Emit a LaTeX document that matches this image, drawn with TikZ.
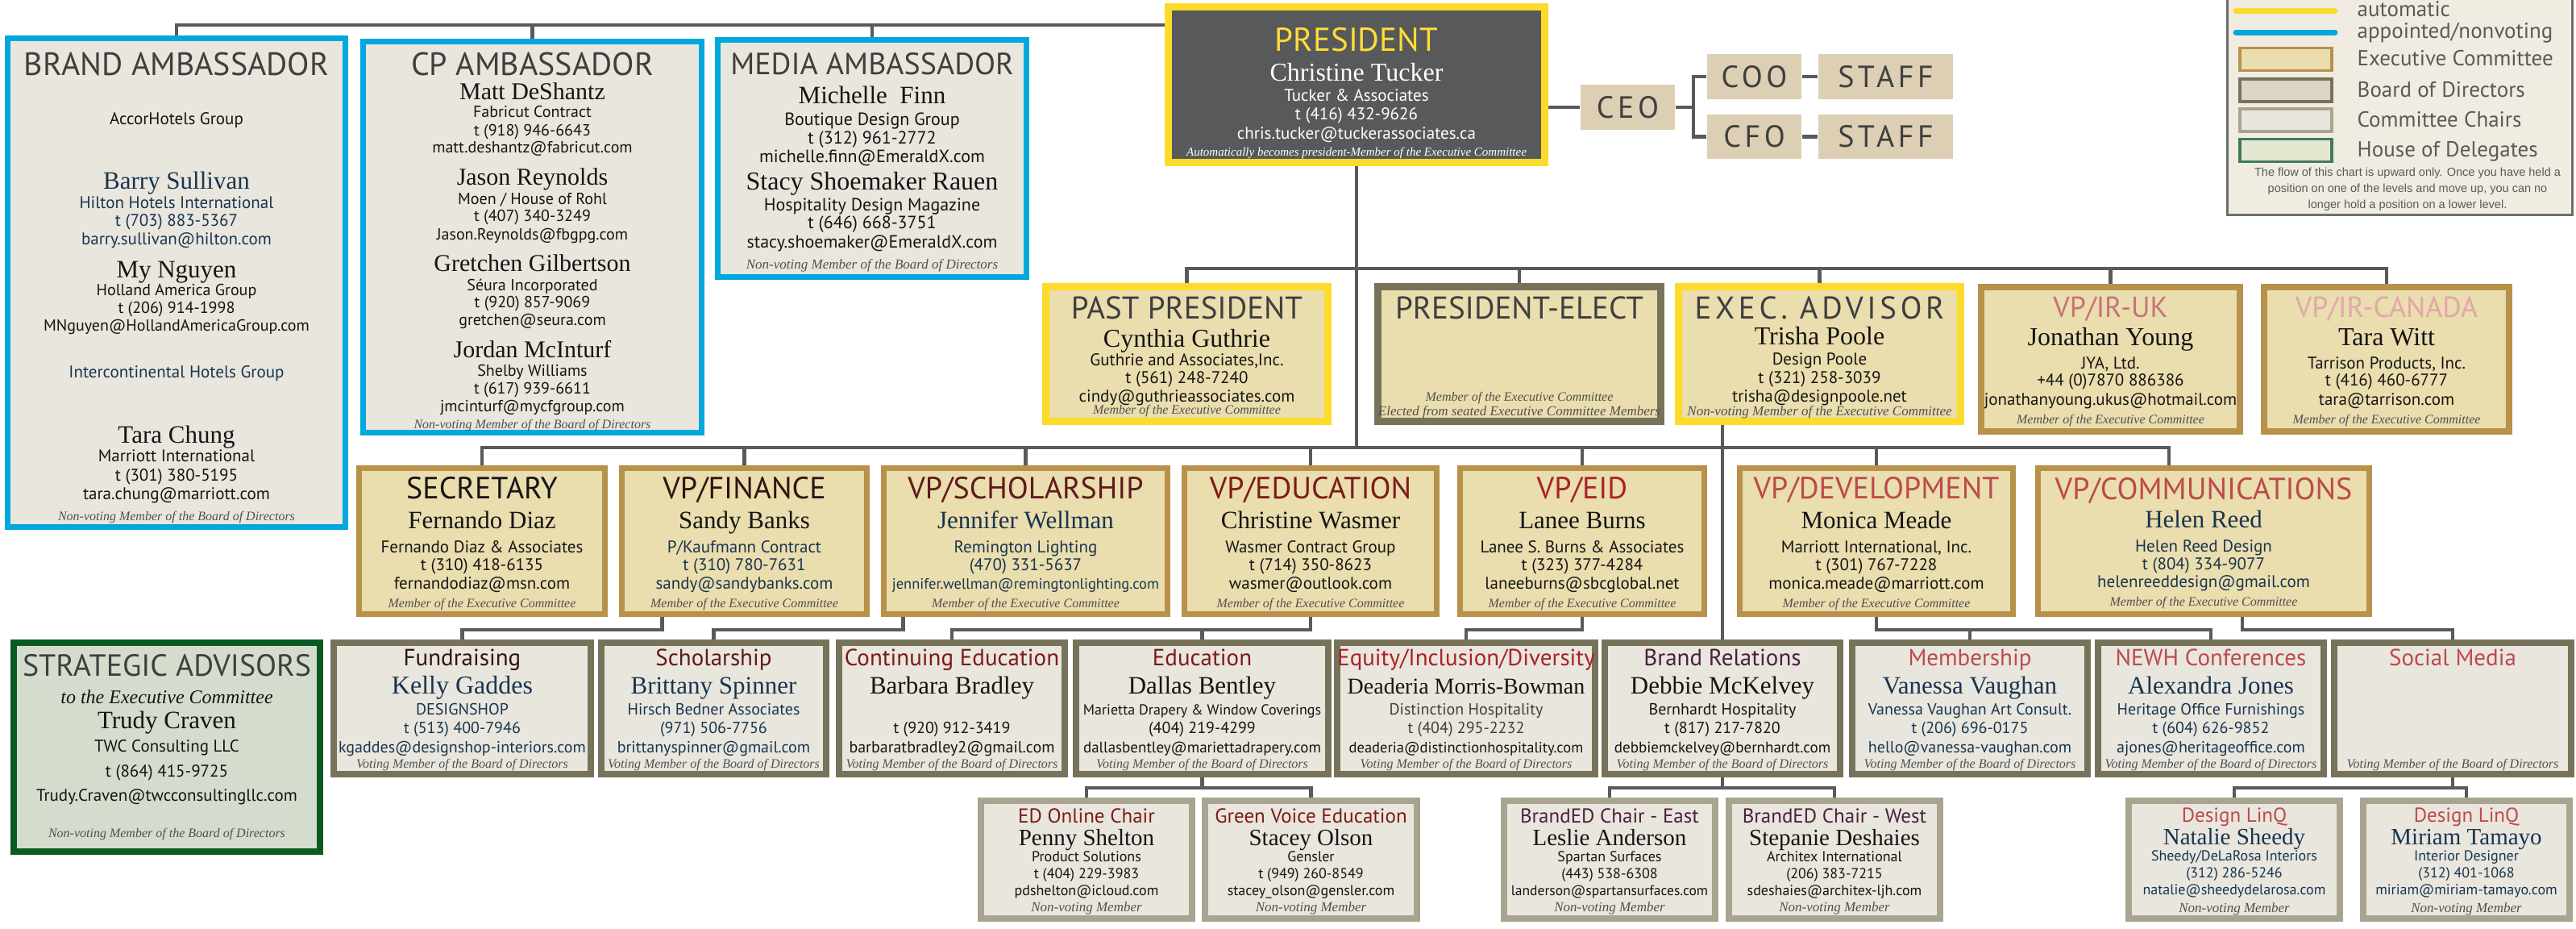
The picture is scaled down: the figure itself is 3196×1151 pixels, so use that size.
\documentclass[tikz,border=0pt]{standalone}
\usepackage{fontspec}
\setmainfont{Liberation Serif}
\newfontfamily\hd{PT Sans}
\newfontfamily\ls{PT Sans}[LetterSpace=12]
\newfontfamily\lgf{Liberation Sans}
\usetikzlibrary{backgrounds}

\definecolor{execfill}{HTML}{EADDAE}
\definecolor{execline}{HTML}{B8914A}
\definecolor{yellowline}{HTML}{FDDB2A}
\definecolor{blueline}{HTML}{00A8DE}
\definecolor{boardline}{HTML}{77735A}
\definecolor{boardfill}{HTML}{DDD5C3}
\definecolor{chairline}{HTML}{A9A48F}
\definecolor{chairfill}{HTML}{E9E6DE}
\definecolor{greenline}{HTML}{0B5A22}
\definecolor{stratfill}{HTML}{D5DCCD}
\definecolor{hodfill}{HTML}{E2E8CF}
\definecolor{hodline}{HTML}{3E7B5B}
\definecolor{tanfill}{HTML}{DDCFB4}
\definecolor{presfill}{HTML}{58595B}
\definecolor{presyellow}{HTML}{FFDD33}
\definecolor{connline}{HTML}{5A5A5A}
\definecolor{legfill}{HTML}{F1ECE2}
\definecolor{legline}{HTML}{6E6E6E}
\definecolor{leggrey}{HTML}{5A5A5A}
\definecolor{hdgrey}{HTML}{3F3F3F}
\definecolor{ink}{HTML}{151515}
\definecolor{navy}{HTML}{17354F}
\definecolor{notegrey}{HTML}{505050}
\definecolor{brownhd}{HTML}{2E1512}
\definecolor{maroonhd}{HTML}{5E1A1C}
\definecolor{darkred}{HTML}{7D1A1A}
\definecolor{redhd}{HTML}{A82227}
\definecolor{rosehd}{HTML}{BC4A4D}
\definecolor{pinkhd}{HTML}{C8727A}
\definecolor{palehd}{HTML}{E2A7AA}
\definecolor{plumhd}{HTML}{4B1F3F}

% one px of the reference = 0.01cm
\newdimen\pxl \pxl=0.01cm
\newcommand\fz[1]{\fontsize{\dimexpr#1\pxl\relax}{0pt}\selectfont}
% a line: distance from the line above, then its text
\newcommand\Ln[2]{\rule{0pt}{\dimexpr#1\pxl\relax}\smash{#2}}
\newcommand\ttl[4]{\Ln{#1}{\hd\fz{#2}\color{#3}#4}}
\newcommand\nme[4]{\Ln{#1}{\rmfamily\fz{#2}\color{#3}#4}}
\newcommand\cnt[4]{\Ln{#1}{\hd\fz{#2}\color{#3}#4}}
\newcommand\nte[3]{\Ln{#1}{\rmfamily\itshape\fz{#2}\color{notegrey}#3}}

\begin{document}
\begin{tikzpicture}[x=0.01cm,y=-0.01cm,
  conn/.style={draw=connline,line width=0.045cm},
  card/.style={inner sep=0pt,align=center,font={\fontsize{1pt}{0pt}\selectfont\lineskip=0pt\lineskiplimit=0pt}},
  execcard/.style={card,draw=execline,fill=execfill,line width=0.07cm},
  topcard/.style={card,draw=yellowline,fill=execfill,line width=0.09cm},
  boardcard/.style={card,draw=boardline,fill=chairfill,line width=0.08cm},
  chaircard/.style={card,draw=chairline,fill=chairfill,line width=0.08cm},
  ambcard/.style={card,draw=blueline,fill=chairfill,line width=0.07cm},
  tanbox/.style={fill=tanfill,inner sep=0pt,font={\ls\fz{38}},text=hdgrey},
  swatch/.style={minimum width=1.14cm,minimum height=0.28cm,line width=0.035cm,inner sep=0pt},
  legtext/.style={anchor=base west,inner sep=0pt,font={\hd\fz{27}},text=leggrey}]
\useasboundingbox (0,0) rectangle (3196,1151);

% ambassadors
\node[ambcard,minimum width=4.19cm,minimum height=6.06cm] (brand) at (219,350.5) {%
\ttl{37}{40}{hdgrey}{BRAND AMBASSADOR}\\
\cnt{61}{21}{ink}{AccorHotels Group}\\
\nme{80}{31}{navy}{Barry Sullivan}\\
\cnt{24}{21}{navy}{Hilton Hotels International}\\
\cnt{22}{21}{navy}{t (703) 883-5367}\\
\cnt{23}{21}{navy}{barry.sullivan@hilton.com}\\
\nme{41}{31}{ink}{My Nguyen}\\
\cnt{22}{20}{ink}{Holland America Group}\\
\cnt{22}{20}{ink}{t (206) 914-1998}\\
\cnt{22}{20}{ink}{MNguyen@HollandAmericaGroup.com}\\
\cnt{58}{21}{navy}{Intercontinental Hotels Group}\\
\nme{81}{31}{ink}{Tara Chung}\\
\cnt{23}{21}{ink}{Marriott International}\\
\cnt{24}{21}{ink}{t (301) 380-5195}\\
\cnt{23}{21}{ink}{tara.chung@marriott.com}\\
\nte{26}{16}{Non-voting Member of the Board of Directors}};
\node[ambcard,minimum width=4.20cm,minimum height=4.85cm] (cp) at (660.5,294) {%
\ttl{36}{40}{hdgrey}{CP AMBASSADOR}\\
\nme{30}{30}{ink}{Matt DeShantz}\\
\cnt{22}{20}{ink}{Fabricut Contract}\\
\cnt{23}{20}{ink}{t (918) 946-6643}\\
\cnt{21}{20}{ink}{matt.deshantz@fabricut.com}\\
\nme{40}{30}{ink}{Jason Reynolds}\\
\cnt{24}{20}{ink}{Moen / House of Rohl}\\
\cnt{21}{20}{ink}{t (407) 340-3249}\\
\cnt{23}{20}{ink}{Jason.Reynolds@fbgpg.com}\\
\nme{39}{30}{ink}{Gretchen Gilbertson}\\
\cnt{24}{20}{ink}{Séura Incorporated}\\
\cnt{21}{20}{ink}{t (920) 857-9069}\\
\cnt{22}{20}{ink}{gretchen@seura.com}\\
\nme{40}{30}{ink}{Jordan McInturf}\\
\cnt{23}{20}{ink}{Shelby Williams}\\
\cnt{22}{20}{ink}{t (617) 939-6611}\\
\cnt{22}{20}{ink}{jmcinturf@mycfgroup.com}\\
\nte{21}{16}{Non-voting Member of the Board of Directors}};
\node[ambcard,minimum width=3.83cm,minimum height=2.94cm] (media) at (1082,196.5) {%
\ttl{32}{38}{hdgrey}{MEDIA AMBASSADOR}\\
\nme{36}{31}{ink}{Michelle\ \ Finn}\\
\cnt{27}{22}{ink}{Boutique Design Group}\\
\cnt{23}{22}{ink}{t (312) 961-2772}\\
\cnt{23}{22}{ink}{michelle.finn@EmeraldX.com}\\
\nme{34}{32}{ink}{Stacy Shoemaker Rauen}\\
\cnt{26}{22}{ink}{Hospitality Design Magazine}\\
\cnt{22}{22}{ink}{t (646) 668-3751}\\
\cnt{24}{22}{ink}{stacy.shoemaker@EmeraldX.com}\\
\nte{26}{17}{Non-voting Member of the Board of Directors}};

% president and staff
\node[card,draw=yellowline,fill=presfill,line width=0.09cm,minimum width=4.67cm,minimum height=1.93cm] (president) at (1683,105) {%
\ttl{46}{41}{presyellow}{PRESIDENT}\\
\nme{37}{32}{white}{Christine Tucker}\\
\cnt{25}{21}{white}{Tucker \& Associates}\\
\cnt{23}{21}{white}{t (416) 432-9626}\\
\cnt{24}{21}{white}{chris.tucker@tuckerassociates.ca}\\
\Ln{21}{\rmfamily\itshape\fz{15}\color{white}Automatically becomes president-Member of the Executive Committee}};
\node[tanbox,minimum width=1.17cm,minimum height=0.56cm] (ceo) at (2019.5,133) {CEO};
\node[tanbox,minimum width=1.17cm,minimum height=0.56cm] (coo) at (2176.5,95) {COO};
\node[tanbox,minimum width=1.17cm,minimum height=0.55cm] (cfo) at (2176.5,169.5) {CFO};
\node[tanbox,minimum width=1.67cm,minimum height=0.56cm] (staffa) at (2339.5,95) {STAFF};
\node[tanbox,minimum width=1.67cm,minimum height=0.55cm] (staffb) at (2339.5,169.5) {STAFF};

% legend
\node[draw=legline,fill=legfill,line width=0.03cm,minimum width=4.28cm,minimum height=2.75cm,inner sep=0pt] (legend) at (2977.5,129) {};
\draw[yellowline,line width=0.07cm,line cap=round] (2774,13) -- (2897,13);
\draw[blueline,line width=0.07cm,line cap=round] (2774,40) -- (2897,40);
\node[legtext] (lgauto) at (2924,20) {automatic};
\node[legtext] (lgappt) at (2924,47) {appointed/nonvoting};
\node[swatch,draw=execline,fill=execfill] (swexec) at (2836,73.5) {};
\node[swatch,draw=boardline,fill=boardfill] (swboard) at (2836,112) {};
\node[swatch,draw=chairline,fill=chairfill] (swchair) at (2836,149) {};
\node[swatch,draw=hodline,fill=hodfill] (swhod) at (2836,186.5) {};
\node[legtext] (lgexec) at (2924,81) {Executive Committee};
\node[legtext] (lgboard) at (2924,120) {Board of Directors};
\node[legtext] (lgchair) at (2924,157) {Committee Chairs};
\node[legtext] (lghod) at (2924,194) {House of Delegates};
\node[card] (lgnote) at (2987,238) {%
\Ln{0}{\lgf\fz{14.5}\color{leggrey}The flow of this chart is upward only. Once you have held a}\\
\Ln{20}{\lgf\fz{14.5}\color{leggrey}position on one of the levels and move up, you can no}\\
\Ln{20}{\lgf\fz{14.5}\color{leggrey}longer hold a position on a lower level.}};

% executive row
\node[topcard,minimum width=3.50cm,minimum height=1.67cm] (pastpres) at (1472.5,439) {%
\ttl{30}{39}{hdgrey}{PAST PRESIDENT}\\
\nme{35}{32}{ink}{Cynthia Guthrie}\\
\cnt{23}{21}{ink}{Guthrie and Associates,Inc.}\\
\cnt{22}{21}{ink}{t (561) 248-7240}\\
\cnt{23}{21}{ink}{cindy@guthrieassociates.com}\\
\nte{15}{16}{Member of the Executive Committee}};
\node[topcard,draw=boardline,minimum width=3.51cm,minimum height=1.67cm] (preselect) at (1885,439) {%
\ttl{32}{39}{hdgrey}{PRESIDENT-ELECT}\\
\nte{102}{16}{Member of the Executive Committee}\\
\nte{18}{17}{Elected from seated Executive Committee Members}};
\node[topcard,minimum width=3.50cm,minimum height=1.67cm] (execadv) at (2257.5,439) {%
\Ln{32}{\ls\fz{39}\color{hdgrey}EXEC. ADVISOR}\\
\nme{32}{32}{ink}{Trisha Poole}\\
\cnt{25}{21}{ink}{Design Poole}\\
\cnt{23}{21}{ink}{t (321) 258-3039}\\
\cnt{23}{21}{ink}{trisha@designpoole.net}\\
\nte{17}{17}{Non-voting Member of the Executive Committee}};
\node[execcard,line width=0.08cm,minimum width=3.21cm,minimum height=1.79cm] (vpiruk) at (2618.5,445.5) {%
\ttl{27}{36}{pinkhd}{VP/IR-UK}\\
\nme{35}{32}{ink}{Jonathan Young}\\
\cnt{29}{21}{ink}{JYA, Ltd.}\\
\cnt{21}{21}{ink}{+44 (0)7870 886386}\\
\cnt{24}{21}{ink}{jonathanyoung.ukus@hotmail.com}\\
\nte{23}{16}{Member of the Executive Committee}};
\node[execcard,line width=0.08cm,minimum width=3.04cm,minimum height=1.79cm] (vpircan) at (2961,445.5) {%
\ttl{27}{36}{palehd}{VP/IR-CANADA}\\
\nme{35}{32}{ink}{Tara Witt}\\
\cnt{29}{21}{ink}{Tarrison Products, Inc.}\\
\cnt{21}{21}{ink}{t (416) 460-6777}\\
\cnt{24}{21}{ink}{tara@tarrison.com}\\
\nte{23}{16}{Member of the Executive Committee}};

% vice presidents
\node[execcard,minimum width=3.05cm,minimum height=1.81cm] (secretary) at (598,671) {%
\ttl{29}{38}{ink}{SECRETARY}\\
\nme{37}{31}{ink}{Fernando Diaz}\\
\cnt{30}{21}{ink}{Fernando Diaz \& Associates}\\
\cnt{22}{21}{ink}{t (310) 418-6135}\\
\cnt{23}{21}{ink}{fernandodiaz@msn.com}\\
\nte{23}{16}{Member of the Executive Committee}};
\node[execcard,minimum width=3.04cm,minimum height=1.81cm] (vpfinance) at (923.5,671) {%
\ttl{29}{38}{brownhd}{VP/FINANCE}\\
\nme{37}{31}{ink}{Sandy Banks}\\
\cnt{30}{21}{navy}{P/Kaufmann Contract}\\
\cnt{22}{21}{navy}{t (310) 780-7631}\\
\cnt{23}{21}{navy}{sandy@sandybanks.com}\\
\nte{23}{16}{Member of the Executive Committee}};
\node[execcard,minimum width=3.52cm,minimum height=1.81cm] (vpscholar) at (1272.5,671) {%
\ttl{29}{38}{maroonhd}{VP/SCHOLARSHIP}\\
\nme{37}{31}{navy}{Jennifer Wellman}\\
\cnt{30}{21}{navy}{Remington Lighting}\\
\cnt{22}{21}{navy}{(470) 331-5637}\\
\cnt{23}{18.5}{navy}{jennifer.wellman@remingtonlighting.com}\\
\nte{23}{16}{Member of the Executive Committee}};
\node[execcard,minimum width=3.13cm,minimum height=1.81cm] (vpedu) at (1626,671) {%
\ttl{29}{38}{darkred}{VP/EDUCATION}\\
\nme{37}{31}{ink}{Christine Wasmer}\\
\cnt{30}{21}{ink}{Wasmer Contract Group}\\
\cnt{22}{21}{ink}{t (714) 350-8623}\\
\cnt{23}{21}{ink}{wasmer@outlook.com}\\
\nte{23}{16}{Member of the Executive Committee}};
\node[execcard,minimum width=3.03cm,minimum height=1.81cm] (vpeid) at (1963,671) {%
\ttl{29}{38}{redhd}{VP/EID}\\
\nme{37}{31}{ink}{Lanee Burns}\\
\cnt{30}{21}{ink}{Lanee S. Burns \& Associates}\\
\cnt{22}{21}{ink}{t (323) 377-4284}\\
\cnt{23}{21}{ink}{laneeburns@sbcglobal.net}\\
\nte{23}{16}{Member of the Executive Committee}};
\node[execcard,minimum width=3.39cm,minimum height=1.81cm] (vpdev) at (2328,671) {%
\ttl{29}{38}{rosehd}{VP/DEVELOPMENT}\\
\nme{37}{31}{ink}{Monica Meade}\\
\cnt{30}{21}{ink}{Marriott International, Inc.}\\
\cnt{22}{21}{ink}{t (301) 767-7228}\\
\cnt{23}{21}{ink}{monica.meade@marriott.com}\\
\nte{23}{16}{Member of the Executive Committee}};
\node[execcard,minimum width=4.11cm,minimum height=1.81cm] (vpcomm) at (2734,671) {%
\ttl{29}{38}{rosehd}{VP/COMMUNICATIONS}\\
\nme{35}{31}{navy}{Helen Reed}\\
\cnt{30}{21}{navy}{Helen Reed Design}\\
\cnt{22}{21}{navy}{t (804) 334-9077}\\
\cnt{22}{21}{navy}{helenreeddesign@gmail.com}\\
\nte{23}{16}{Member of the Executive Committee}};

% strategic advisors
\node[card,draw=greenline,fill=stratfill,line width=0.08cm,minimum width=3.80cm,minimum height=2.59cm] (strategic) at (207,926.5) {%
\ttl{23}{38}{hdgrey}{STRATEGIC ADVISORS}\\
\Ln{34}{\rmfamily\itshape\fz{24}\color{ink}to the Executive Committee}\\
\nme{31}{31}{ink}{Trudy Craven}\\
\cnt{29}{21}{ink}{TWC Consulting LLC}\\
\cnt{31}{21}{ink}{t (864) 415-9725}\\
\cnt{30}{21}{ink}{Trudy.Craven@twcconsultingllc.com}\\
\nte{45}{16}{Non-voting Member of the Board of Directors}};

% committees
\node[boardcard,minimum width=3.19cm,minimum height=1.63cm] (fundraising) at (573.5,878.5) {%
\ttl{20}{29}{brownhd}{Fundraising}\\
\nme{35}{32}{navy}{Kelly Gaddes}\\
\cnt{26}{20}{navy}{DESIGNSHOP}\\
\cnt{23}{20}{navy}{t (513) 400-7946}\\
\cnt{24}{20}{navy}{kgaddes@designshop-interiors.com}\\
\nte{19}{16}{Voting Member of the Board of Directors}};
\node[boardcard,minimum width=2.79cm,minimum height=1.63cm] (scholarship) at (885.5,878.5) {%
\ttl{20}{29}{maroonhd}{Scholarship}\\
\nme{35}{31}{navy}{Brittany Spinner}\\
\cnt{26}{20}{navy}{Hirsch Bedner Associates}\\
\cnt{23}{20}{navy}{(971) 506-7756}\\
\cnt{24}{20}{navy}{brittanyspinner@gmail.com}\\
\nte{19}{16}{Voting Member of the Board of Directors}};
\node[boardcard,minimum width=2.80cm,minimum height=1.63cm] (contedu) at (1181,878.5) {%
\ttl{20}{29}{darkred}{Continuing Education}\\
\nme{35}{31}{ink}{Barbara Bradley}\\
\cnt{49}{20}{ink}{t (920) 912-3419}\\
\cnt{24}{20}{ink}{barbaratbradley2@gmail.com}\\
\nte{19}{16}{Voting Member of the Board of Directors}};
\node[boardcard,minimum width=3.13cm,minimum height=1.63cm] (education) at (1491.5,878.5) {%
\ttl{20}{29}{darkred}{Education}\\
\nme{35}{31}{ink}{Dallas Bentley}\\
\cnt{26}{18}{ink}{Marietta Drapery \& Window Coverings}\\
\cnt{23}{20}{ink}{(404) 219-4299}\\
\cnt{24}{19}{ink}{dallasbentley@mariettadrapery.com}\\
\nte{19}{16}{Voting Member of the Board of Directors}};
\node[boardcard,minimum width=3.16cm,minimum height=1.63cm] (eid) at (1819,878.5) {%
\ttl{20}{29}{redhd}{Equity/Inclusion/Diversity}\\
\nme{35}{28}{ink}{Deaderia Morris-Bowman}\\
\cnt{26}{20}{hdgrey}{Distinction Hospitality}\\
\cnt{23}{20}{hdgrey}{t (404) 295-2232}\\
\cnt{24}{18.5}{ink}{deaderia@distinctionhospitality.com}\\
\nte{19}{16}{Voting Member of the Board of Directors}};
\node[boardcard,minimum width=2.92cm,minimum height=1.63cm] (brandrel) at (2137,878.5) {%
\ttl{20}{29}{plumhd}{Brand Relations}\\
\nme{35}{31}{ink}{Debbie McKelvey}\\
\cnt{26}{20}{ink}{Bernhardt Hospitality}\\
\cnt{23}{20}{ink}{t (817) 217-7820}\\
\cnt{24}{19}{ink}{debbiemckelvey@bernhardt.com}\\
\nte{19}{16}{Voting Member of the Board of Directors}};
\node[boardcard,minimum width=2.92cm,minimum height=1.63cm] (membership) at (2444,878.5) {%
\ttl{20}{29}{rosehd}{Membership}\\
\nme{35}{31}{navy}{Vanessa Vaughan}\\
\cnt{26}{20}{navy}{Vanessa Vaughan Art Consult.}\\
\cnt{23}{20}{navy}{t (206) 696-0175}\\
\cnt{24}{20}{navy}{hello@vanessa-vaughan.com}\\
\nte{19}{16}{Voting Member of the Board of Directors}};
\node[boardcard,minimum width=2.80cm,minimum height=1.63cm] (newh) at (2743,878.5) {%
\ttl{20}{29}{rosehd}{NEWH Conferences}\\
\nme{35}{31}{navy}{Alexandra Jones}\\
\cnt{26}{20}{navy}{Heritage Office Furnishings}\\
\cnt{23}{20}{navy}{t (604) 626-9852}\\
\cnt{24}{20}{navy}{ajones@heritageoffice.com}\\
\nte{19}{16}{Voting Member of the Board of Directors}};
\node[boardcard,minimum width=2.94cm,minimum height=1.63cm] (social) at (3043,878.5) {%
\ttl{20}{29}{rosehd}{Social Media}\\
\nte{127}{16}{Voting Member of the Board of Directors}};

% committee chairs
\node[chaircard,minimum width=2.62cm,minimum height=1.46cm] (edonline) at (1348,1066) {%
\ttl{18}{25}{darkred}{ED Online Chair}\\
\nme{28}{29}{ink}{Penny Shelton}\\
\cnt{20}{18}{ink}{Product Solutions}\\
\cnt{21}{18}{ink}{t (404) 229-3983}\\
\cnt{21}{18}{ink}{pdshelton@icloud.com}\\
\nte{20}{17}{Non-voting Member}};
\node[chaircard,minimum width=2.63cm,minimum height=1.46cm] (greenvoice) at (1626.5,1066) {%
\ttl{18}{25}{darkred}{Green Voice Education}\\
\nme{28}{29}{ink}{Stacey Olson}\\
\cnt{20}{18}{ink}{Gensler}\\
\cnt{21}{18}{ink}{t (949) 260-8549}\\
\cnt{21}{18}{ink}{stacey\_olson@gensler.com}\\
\nte{20}{17}{Non-voting Member}};
\node[chaircard,minimum width=2.62cm,minimum height=1.46cm] (brandedeast) at (1997,1066) {%
\ttl{18}{25}{plumhd}{BrandED Chair - East}\\
\nme{28}{29}{ink}{Leslie Anderson}\\
\cnt{20}{18}{ink}{Spartan Surfaces}\\
\cnt{21}{18}{ink}{(443) 538-6308}\\
\cnt{21}{17.5}{ink}{landerson@spartansurfaces.com}\\
\nte{20}{17}{Non-voting Member}};
\node[chaircard,minimum width=2.62cm,minimum height=1.46cm] (brandedwest) at (2276,1066) {%
\ttl{18}{25}{plumhd}{BrandED Chair - West}\\
\nme{28}{29}{ink}{Stepanie Deshaies}\\
\cnt{20}{18}{ink}{Architex International}\\
\cnt{21}{18}{ink}{(206) 383-7215}\\
\cnt{21}{18}{ink}{sdeshaies@architex-ljh.com}\\
\nte{20}{17}{Non-voting Member}};
\node[chaircard,minimum width=2.62cm,minimum height=1.46cm] (linqa) at (2772,1066) {%
\ttl{18}{25}{rosehd}{Design LinQ}\\
\nme{28}{29}{navy}{Natalie Sheedy}\\
\cnt{20}{18}{navy}{Sheedy/DeLaRosa Interiors}\\
\cnt{21}{18}{navy}{(312) 286-5246}\\
\cnt{21}{18}{navy}{natalie@sheedydelarosa.com}\\
\nte{22}{17}{Non-voting Member}};
\node[chaircard,minimum width=2.56cm,minimum height=1.46cm] (linqb) at (3060,1066) {%
\ttl{18}{25}{rosehd}{Design LinQ}\\
\nme{28}{29}{navy}{Miriam Tamayo}\\
\cnt{20}{18}{navy}{Interior Designer}\\
\cnt{21}{18}{navy}{(312) 401-1068}\\
\cnt{21}{18}{navy}{miriam@miriam-tamayo.com}\\
\nte{22}{17}{Non-voting Member}};

% connectors
\begin{scope}[on background layer]
\draw[conn] (brand.north) |- (president.west |- 0,31);
\draw[conn] (cp.north) -- (cp.north |- 0,31);
\draw[conn] (media.north) -- (media.north |- 0,31);
\draw[conn] (president.east |- ceo.west) -- (ceo.west);
\draw[conn] (ceo.east) -- ++(22,0) coordinate (ceofork);
\draw[conn] (coo.west) -| (ceofork) |- (cfo.west);
\draw[conn] (coo.east) -- (staffa.west);
\draw[conn] (cfo.east) -- (staffb.west);
\draw[conn] (president.south) -- (president.south |- 0,555);
\draw[conn] (pastpres.north) |- (vpircan.north |- 0,333) -- (vpircan.north);
\foreach \n in {preselect,execadv,vpiruk}
  \draw[conn] (\n.north) -- (\n.north |- 0,333);
\coordinate (commtop) at ([xshift=-0.43cm]vpcomm.north);
\draw[conn] (secretary.north) |- (commtop |- 0,555) -- (commtop);
\foreach \n in {vpfinance,vpscholar,vpedu,vpeid,vpdev}
  \draw[conn] (\n.north) -- (\n.north |- 0,555);
\draw[conn] (execadv.south -| brandrel.north) -- (brandrel.north);
\coordinate (finbot) at ([xshift=-1.02cm]vpfinance.south);
\coordinate (schbot) at ([xshift=-1.52cm]vpscholar.south);
\coordinate (commbot) at ([xshift=0.48cm]vpcomm.south);
\draw[conn] (finbot) |- (fundraising.north |- 0,781) -- (fundraising.north);
\draw[conn] (schbot) |- (scholarship.north |- 0,781) -- (scholarship.north);
\draw[conn] (vpedu.south) |- (contedu.north |- 0,781) -- (contedu.north);
\draw[conn] (education.north) -- (education.north |- 0,781);
\draw[conn] (vpeid.south) |- (eid.north |- 0,781) -- (eid.north);
\draw[conn] (vpdev.south) |- (newh.north |- 0,781) -- (newh.north);
\draw[conn] (membership.north) -- (membership.north |- 0,781);
\draw[conn] (commbot) |- (social.north |- 0,781) -- (social.north);
\draw[conn] (education.south) -- (education.south |- 0,977);
\draw[conn] (edonline.north) |- (greenvoice.north |- 0,977) -- (greenvoice.north);
\draw[conn] (brandrel.south) -- (brandrel.south |- 0,977);
\draw[conn] (brandedeast.north) |- (brandedwest.north |- 0,977) -- (brandedwest.north);
\draw[conn] (social.south) -- (social.south |- 0,977);
\draw[conn] (linqa.north) |- (linqb.north |- 0,977) -- (linqb.north);
\end{scope}
\end{tikzpicture}
\end{document}
